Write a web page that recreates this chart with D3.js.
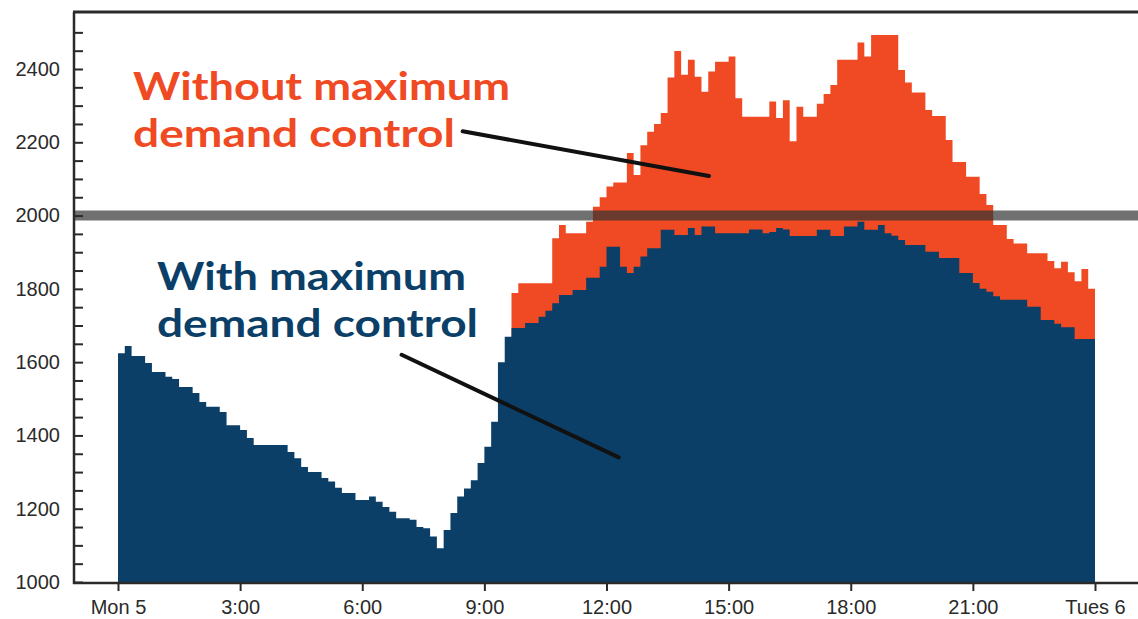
<!DOCTYPE html>
<html>
<head>
<meta charset="utf-8">
<script src="https://cdn.jsdelivr.net/npm/d3@7"></script>
<style>
  html, body { margin: 0; padding: 0; background: #fff; }
  svg { display: block; }
</style>
</head>
<body>
<svg id="chart" width="1138" height="619"></svg>
<script>
// ---------------- DATA ----------------
const intervalMinutes = 10;
const timeTickMinutes = [0, 180, 360, 540, 720, 900, 1080, 1260, 1440];
const timeTickLabels = ["Mon 5", "3:00", "6:00", "9:00", "12:00", "15:00", "18:00", "21:00", "Tues 6"];
const demandTickValues = [1000, 1200, 1400, 1600, 1800, 2000, 2200, 2400];
const demandLimit = 2000;

// Demand with maximum demand control (10-minute intervals from Mon 0:00)
const withControl = [
  1624,1644,1617,1617,1598,1573,1573,1560,1554,1532,
  1532,1516,1491,1478,1478,1464,1428,1428,1415,1393,
  1374,1374,1374,1374,1374,1355,1338,1314,1300,1300,
  1284,1274,1257,1243,1243,1224,1224,1233,1219,1205,
  1192,1174,1174,1170,1150,1147,1124,1092,1142,1188,
  1233,1255,1278,1325,1369,1437,1600,1669,1693,1693,
  1707,1707,1724,1740,1761,1783,1783,1797,1797,1830,
  1830,1860,1915,1915,1860,1843,1860,1888,1911,1911,
  1961,1961,1947,1947,1966,1947,1970,1970,1952,1952,
  1952,1952,1952,1962,1962,1952,1955,1966,1962,1944,
  1944,1944,1944,1961,1961,1944,1944,1970,1970,1983,
  1961,1961,1974,1952,1945,1933,1920,1920,1920,1901,
  1901,1884,1884,1884,1843,1843,1816,1800,1792,1780,
  1770,1770,1770,1770,1751,1751,1715,1715,1705,1695,
  1695,1663,1663,1663
];

// Demand without maximum demand control (visible above from 9:40 onwards)
const withoutStartMinute = 580;
const withoutControl = [
  1789,1815,1815,1815,1815,1815,1938,1974,1952,1952,
  1952,1983,2024,2050,2079,2090,2090,2171,2111,2192,
  2229,2250,2280,2377,2449,2384,2425,2379,2338,2393,
  2420,2420,2434,2320,2270,2270,2270,2270,2311,2266,
  2315,2203,2297,2270,2270,2305,2332,2356,2425,2425,
  2425,2472,2434,2493,2493,2493,2493,2397,2363,2336,
  2336,2288,2272,2272,2206,2146,2146,2106,2106,2059,
  2029,1974,1974,1936,1924,1924,1897,1897,1897,1876,
  1856,1874,1845,1821,1854,1800
];

const labelWithout = ["Without maximum", "demand control"];
const labelWith = ["With maximum", "demand control"];

// ---------------- CHART ----------------
const colorWith = "#0b3f68";
const colorWithout = "#ef4a23";
const axisColor = "#2a2a2a";

const svg = d3.select("#chart");
const W = 1138, H = 619;
const axisX = 74, topY = 12;

const x = d3.scaleLinear().domain([0, 1440]).range([118, 1095]);
const y = d3.scaleLinear().domain([1000, 2400]).range([582, 69]);

function toSteps(values, startMinute) {
  const pts = values.map((v, i) => ({ t: startMinute + i * intervalMinutes, v }));
  pts.push({ t: startMinute + values.length * intervalMinutes, v: values[values.length - 1] });
  return pts;
}

const area = d3.area()
  .curve(d3.curveStepAfter)
  .x(d => x(d.t))
  .y0(y(1000))
  .y1(d => y(d.v));

svg.append("path")
  .datum(toSteps(withoutControl, withoutStartMinute))
  .attr("d", area)
  .attr("fill", colorWithout);

svg.append("path")
  .datum(toSteps(withControl, 0))
  .attr("d", area)
  .attr("fill", colorWith);

// Limit line at 2000
svg.append("line")
  .attr("x1", axisX).attr("x2", W)
  .attr("y1", y(demandLimit)).attr("y2", y(demandLimit))
  .attr("stroke", "#333").attr("stroke-opacity", 0.7)
  .attr("stroke-width", 10);

// Y axis minor ticks (inside)
const yMinor = svg.append("g")
  .attr("transform", `translate(${axisX},0)`)
  .call(d3.axisRight(y).tickValues(d3.range(1000, 2501, 50)).tickSize(9).tickFormat(""));
yMinor.select(".domain").remove();
yMinor.selectAll("line").attr("stroke", axisColor).attr("stroke-width", 2);

// Y labels
const yLab = svg.append("g")
  .attr("transform", `translate(${axisX},0)`)
  .call(d3.axisLeft(y).tickValues(demandTickValues).tickSize(0).tickPadding(14).tickFormat(d3.format("d")));
yLab.select(".domain").remove();
yLab.selectAll("text")
  .attr("font-family", "'Liberation Sans', Arial, sans-serif")
  .attr("font-size", 20)
  .attr("fill", "#2a2a2a");

// X axis
const xAx = svg.append("g")
  .attr("transform", `translate(0,583)`)
  .call(d3.axisBottom(x).tickValues(timeTickMinutes).tickSize(8).tickPadding(9)
    .tickFormat((d, i) => timeTickLabels[i]));
xAx.select(".domain").remove();
xAx.selectAll("line").attr("stroke", axisColor).attr("stroke-width", 2);
xAx.selectAll("text")
  .attr("font-family", "'Liberation Sans', Arial, sans-serif")
  .attr("font-size", 20)
  .attr("fill", "#2a2a2a");

// Frame lines
svg.append("line").attr("x1", axisX).attr("x2", axisX).attr("y1", topY).attr("y2", 584)
  .attr("stroke", axisColor).attr("stroke-width", 2.5);
svg.append("line").attr("x1", axisX - 1).attr("x2", W).attr("y1", 583).attr("y2", 583)
  .attr("stroke", axisColor).attr("stroke-width", 2.5);
svg.append("line").attr("x1", axisX - 1).attr("x2", W).attr("y1", topY).attr("y2", topY)
  .attr("stroke", axisColor).attr("stroke-width", 3);

// Annotation labels
function addLabel(lines, xPos, baselines, widths, color) {
  lines.forEach((s, i) => {
    svg.append("text")
      .attr("x", xPos).attr("y", baselines[i])
      .attr("font-family", "Lato, 'Open Sans', sans-serif")
      .attr("font-weight", 700)
      .attr("font-size", 39)
      .attr("textLength", widths[i])
      .attr("lengthAdjust", "spacingAndGlyphs")
      .attr("fill", color)
      .text(s);
  });
}
addLabel(labelWithout, 133, [100, 147], [377, 322], colorWithout);
addLabel(labelWith, 157, [290, 337], [309, 321], colorWith);

// Leader lines (point to minute/value positions)
const leaders = [
  { from: [508, 2230], to: [871, 2108] },
  { from: [418, 1620], to: [738, 1340] }
];
leaders.forEach(l => {
  svg.append("line")
    .attr("x1", x(l.from[0])).attr("y1", y(l.from[1]))
    .attr("x2", x(l.to[0])).attr("y2", y(l.to[1]))
    .attr("stroke", "#111").attr("stroke-width", 4).attr("stroke-linecap", "round");
});
</script>
</body>
</html>
